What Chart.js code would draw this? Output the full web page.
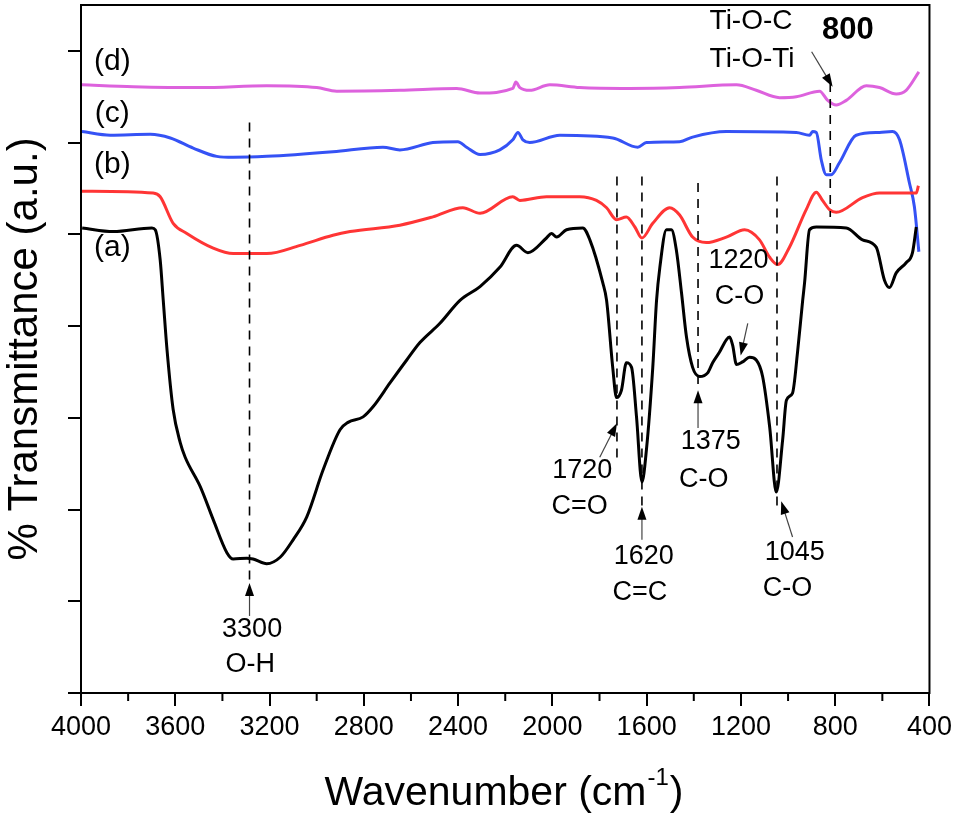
<!DOCTYPE html>
<html lang="en">
<head>
  <meta charset="UTF-8" />
  <title>FTIR spectra</title>
  <script src="https://cdn.jsdelivr.net/npm/chart.js"></script>
  <style>
    body { margin: 0; padding: 0; background: #fff; }
    canvas { display: block; }
  </style>
</head>
<body>
  <canvas id="ftir" width="957" height="822"></canvas>

  <script>
    // spectra: [wavenumber (cm-1), transmittance (a.u.)]
    const curveA = [
      [3995,5.07],[3863,5.03],[3699,5.07],[3685,5.05],[3664,4.72],[3651,4.28],[3635,3.74],
      [3609,3.09],[3579,2.73],[3558,2.57],[3494,2.25],[3439,1.89],[3381,1.53],[3354,1.46],
      [3296,1.47],[3270,1.46],[3212,1.41],[3155,1.48],[3100,1.67],[3042,1.92],[2973,2.43],
      [2901,2.87],[2867,2.95],[2803,3.01],[2761,3.12],[2689,3.38],[2618,3.63],[2562,3.82],
      [2477,4.03],[2392,4.28],[2307,4.43],[2223,4.64],[2152,4.88],[2104,4.80],[2025,4.96],
      [2004,5.01],[1982,4.97],[1940,5.05],[1871,5.07],[1841,4.94],[1786,4.47],[1770,4.28],
      [1744,3.55],[1728,3.22],[1707,3.30],[1686,3.60],[1664,3.55],[1643,3.01],[1620,2.30],
      [1601,2.65],[1574,3.55],[1558,4.28],[1544,4.64],[1516,5.05],[1495,5.05],[1474,4.83],
      [1452,4.36],[1431,3.88],[1405,3.55],[1375,3.45],[1341,3.49],[1320,3.60],[1290,3.72],
      [1262,3.85],[1248,3.88],[1235,3.79],[1219,3.58],[1193,3.61],[1163,3.66],[1135,3.63],
      [1108,3.45],[1078,2.90],[1050,2.19],[1023,2.76],[1007,3.19],[981,3.27],[960,3.71],
      [938,4.28],[930,4.47],[909,5.05],[880,5.08],[753,5.07],[684,4.94],[626,4.86],
      [591,4.50],[570,4.42],[541,4.58],[499,4.69],[472,4.80],[456,5.08]
    ];
    const curveB = [
      [3996,5.47],[3694,5.45],[3664,5.41],[3609,5.12],[3551,5.01],[3439,4.85],[3354,4.79],
      [3212,4.79],[3070,4.88],[2931,4.99],[2858,5.03],[2647,5.10],[2507,5.19],[2380,5.29],
      [2307,5.23],[2168,5.41],[2138,5.37],[2025,5.41],[1884,5.41],[1813,5.37],[1770,5.29],
      [1728,5.16],[1686,5.19],[1650,5.08],[1620,4.96],[1574,5.12],[1502,5.29],[1460,5.21],
      [1405,4.97],[1347,4.91],[1262,4.97],[1184,5.05],[1121,4.94],[1078,4.75],[1044,4.67],
      [994,4.86],[923,5.27],[880,5.46],[854,5.37],[824,5.27],[796,5.24],[684,5.40],
      [612,5.45],[527,5.45],[456,5.45],[447,5.53]
    ];
    const curveC = [
      [3996,6.12],[3876,6.08],[3706,6.09],[3621,6.05],[3524,5.94],[3424,5.85],[3354,5.84],
      [3212,5.85],[2931,5.90],[2719,5.95],[2647,5.92],[2507,6.00],[2401,6.01],[2364,5.95],
      [2307,5.87],[2223,5.92],[2168,6.03],[2146,6.11],[2125,6.03],[2096,6.00],[1968,6.08],
      [1744,6.05],[1638,5.95],[1601,6.00],[1460,6.01],[1405,6.06],[1262,6.12],[965,6.11],
      [909,6.08],[896,6.12],[880,6.11],[859,5.81],[838,5.65],[817,5.65],[782,5.78],
      [711,6.08],[612,6.11],[557,6.12],[527,6.03],[485,5.56],[464,5.30],[445,4.81]
    ];
    const curveD = [
      [3996,6.63],[3778,6.61],[3494,6.60],[3212,6.62],[3000,6.60],[2915,6.56],[2647,6.57],
      [2406,6.59],[2307,6.54],[2168,6.59],[2155,6.66],[2138,6.60],[2096,6.57],[2011,6.63],
      [1884,6.60],[1672,6.59],[1460,6.60],[1219,6.63],[1135,6.57],[1036,6.49],[965,6.50],
      [866,6.56],[832,6.46],[796,6.41],[753,6.46],[668,6.62],[612,6.60],[541,6.53],
      [499,6.57],[445,6.77]
    ];

    const seriesLabels = ['(a)', '(b)', '(c)', '(d)'];
    const seriesColors = ['#000000', '#ff3535', '#3552f5', '#dd62dd'];
    const seriesLabelPos = [[3867,4.85],[3867,5.76],[3867,6.32],[3867,6.88]];

    // dashed peak markers: [wavenumber, yTop, yBottom]
    const peakLines = [[3285,6.22,1.20],[1726,5.63,2.51],[1620,5.63,2.03],[1382,5.56,3.30],[1047,5.63,2.00],[821,6.65,5.19]];
    // peak annotations: [text, x, y]
    const peakLabels = [
      ['3300',3274,0.69],['O-H',3282,0.31],
      ['1720',1873,2.42],['C=O',1884,2.03],
      ['1620',1612,1.49],['C=C',1629,1.10],
      ['1375',1328,2.74],['C-O',1358,2.33],
      ['1045',972,1.53],['C-O',1002,1.14],
      ['1220',1210,4.71],['C-O',1206,4.32]
    ];
    const tiLabels = [['Ti-O-C',1333,7.32],['Ti-O-Ti',1333,6.91]];
    const boldLabel = ['800',746,7.22];
    // arrows: [xFrom, yFrom, xTo, yTo]
    const arrows = [
      [3285,0.84,3285,1.20],[1799,2.57,1726,2.94],[1620,1.67,1620,2.03],
      [1382,2.89,1382,3.30],[981,1.70,1029,2.09],[1171,4.03,1201,3.68],[900,6.99,811,6.61]
    ];
    const minorTicks = [3800,3400,3000,2600,2200,1800,1400,1000,600];

    const FONT = '"Liberation Sans", Arial, sans-serif';
    Chart.defaults.font.family = FONT;

    function arrow(ctx, x1, y1, x2, y2) {
      const a = Math.atan2(y2 - y1, x2 - x1);
      ctx.beginPath();
      ctx.moveTo(x1, y1);
      ctx.lineTo(x2 - 10 * Math.cos(a), y2 - 10 * Math.sin(a));
      ctx.stroke();
      ctx.beginPath();
      ctx.moveTo(x2, y2);
      ctx.lineTo(x2 - 13 * Math.cos(a) + 4.5 * Math.sin(a), y2 - 13 * Math.sin(a) - 4.5 * Math.cos(a));
      ctx.lineTo(x2 - 13 * Math.cos(a) - 4.5 * Math.sin(a), y2 - 13 * Math.sin(a) + 4.5 * Math.cos(a));
      ctx.closePath();
      ctx.fill();
    }

    const annotations = {
      id: 'annotations',
      afterDatasetsDraw(chart) {
        const { ctx, chartArea: area, scales: { x, y } } = chart;
        ctx.save();
        // dashed peak lines
        ctx.strokeStyle = '#000';
        ctx.lineWidth = 1.6;
        ctx.setLineDash([9, 7]);
        peakLines.forEach(([v, y1, y2]) => {
          ctx.beginPath();
          ctx.moveTo(x.getPixelForValue(v), y.getPixelForValue(y1));
          ctx.lineTo(x.getPixelForValue(v), y.getPixelForValue(y2));
          ctx.stroke();
        });
        ctx.setLineDash([]);

        // arrows
        ctx.strokeStyle = '#444';
        ctx.fillStyle = '#000';
        ctx.lineWidth = 1.2;
        arrows.forEach(([a, b, c, d]) => arrow(ctx,
          x.getPixelForValue(a), y.getPixelForValue(b), x.getPixelForValue(c), y.getPixelForValue(d)));

        // text
        ctx.fillStyle = '#000';
        ctx.textBaseline = 'middle';
        ctx.textAlign = 'center';
        ctx.font = '30px ' + FONT;
        seriesLabels.forEach((t, i) => ctx.fillText(t, x.getPixelForValue(seriesLabelPos[i][0]), y.getPixelForValue(seriesLabelPos[i][1])));
        ctx.font = '27px ' + FONT;
        peakLabels.forEach(([t, a, b]) => ctx.fillText(t, x.getPixelForValue(a), y.getPixelForValue(b)));
        ctx.textAlign = 'left';
        ctx.font = '28px ' + FONT;
        tiLabels.forEach(([t, a, b]) => ctx.fillText(t, x.getPixelForValue(a), y.getPixelForValue(b)));
        ctx.textAlign = 'center';
        ctx.font = 'bold 31px ' + FONT;
        ctx.fillText(boldLabel[0], x.getPixelForValue(boldLabel[1]), y.getPixelForValue(boldLabel[2]));

        // frame and minor ticks
        ctx.strokeStyle = '#000';
        ctx.lineWidth = 2;
        ctx.strokeRect(area.left, area.top, area.right - area.left, area.bottom - area.top);
        minorTicks.forEach(v => {
          const px = x.getPixelForValue(v);
          ctx.beginPath();
          ctx.moveTo(px, area.bottom);
          ctx.lineTo(px, area.bottom + 8);
          ctx.stroke();
        });

        // x axis title with superscript
        const base = 805;
        ctx.textAlign = 'left';
        ctx.textBaseline = 'alphabetic';
        const main = 'Wavenumber (cm';
        ctx.font = '41px ' + FONT;
        const w1 = ctx.measureText(main).width;
        ctx.font = '24px ' + FONT;
        const w2 = ctx.measureText('-1').width;
        ctx.font = '41px ' + FONT;
        const w3 = ctx.measureText(')').width;
        const sx = 503 - (w1 + w2 + w3) / 2;
        ctx.fillText(main, sx, base);
        ctx.font = '24px ' + FONT;
        ctx.fillText('-1', sx + w1 + 1, base - 20);
        ctx.font = '41px ' + FONT;
        ctx.fillText(')', sx + w1 + w2 + 2, base);
        ctx.restore();
      }
    };

    const curves = [curveA, curveB, curveC, curveD];

    new Chart(document.getElementById('ftir').getContext('2d'), {
      type: 'line',
      data: {
        datasets: curves.map((c, i) => ({
          label: seriesLabels[i],
          data: c.map(([wx, ty]) => ({ x: wx, y: ty })),
          borderColor: seriesColors[i],
          borderWidth: 3,
          pointRadius: 0,
          cubicInterpolationMode: 'monotone',
          fill: false
        }))
      },
      options: {
        responsive: false,
        animation: false,
        devicePixelRatio: 1,
        layout: { padding: { top: 5, right: 27, left: 0, bottom: 0 } },
        plugins: { legend: { display: false }, tooltip: { enabled: false } },
        scales: {
          x: {
            type: 'linear',
            reverse: true,
            min: 400,
            max: 4000,
            ticks: {
              stepSize: 400,
              autoSkip: false,
              maxRotation: 0,
              color: '#000',
              padding: 5,
              font: { size: 27 },
              callback: v => String(v)
            },
            grid: { drawOnChartArea: false, drawTicks: true, tickLength: 13, color: '#000', lineWidth: 2 },
            border: { display: true, color: '#000', width: 2 },
            afterFit: s => { s.height = 129; }
          },
          y: {
            min: 0,
            max: 7.5,
            ticks: { display: false, stepSize: 1, includeBounds: false },
            grid: { drawOnChartArea: false, drawTicks: true, tickLength: 13, color: '#000', lineWidth: 2 },
            border: { display: true, color: '#000', width: 2 },
            title: { display: true, text: '% Transmittance (a.u.)', color: '#000', font: { size: 42 }, padding: 0 },
            afterFit: s => { s.width = 81; }
          }
        }
      },
      plugins: [annotations]
    });
  </script>
</body>
</html>
